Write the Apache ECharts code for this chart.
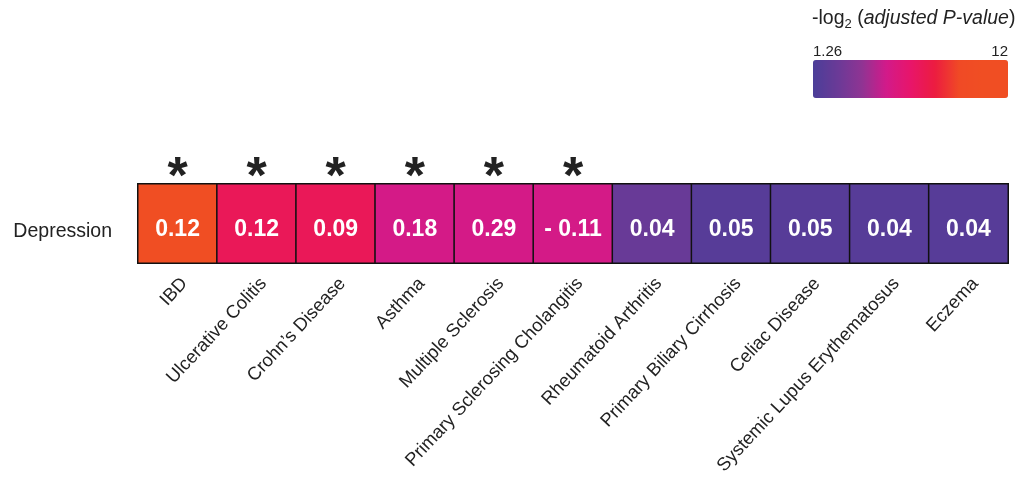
<!DOCTYPE html>
<html>
<head>
<meta charset="utf-8">
<script src="https://cdn.jsdelivr.net/npm/echarts@6/dist/echarts.min.js"></script>
<style>
  html, body { margin: 0; padding: 0; background: #fff; }
  #main { width: 1030px; height: 486px; }
</style>
</head>
<body>
<div id="main"></div>
<script>
    // 疾病类别
    var diseases = ['IBD', 'Ulcerative Colitis', 'Crohn\u2019s Disease', 'Asthma', 'Multiple Sclerosis',
        'Primary Sclerosing Cholangitis', 'Rheumatoid Arthritis', 'Primary Biliary Cirrhosis',
        'Celiac Disease', 'Systemic Lupus Erythematosus', 'Eczema'];
    var traits = ['Depression'];
    // -log2(adjusted P-value), estimated from colour
    var negLogP = [12, 7.2, 7.2, 5.4, 5.4, 5.4, 2.5, 1.8, 1.8, 1.8, 1.8];
    // correlation labels
    var corrLabels = ['0.12', '0.12', '0.09', '0.18', '0.29', '- 0.11', '0.04', '0.05', '0.05', '0.04', '0.04'];
    var stars = ['*', '*', '*', '*', '*', '*', '', '', '', '', ''];
    var legendMin = 1.26;
    var legendMax = 12;

    var heatData = negLogP.map(function (v, i) {
        return [i, 0, v];
    });

    var chart = echarts.init(document.getElementById('main'));
    var option = {
        animation: false,
        textStyle: { fontFamily: 'Liberation Sans, Arial, sans-serif' },
        grid: {
            left: 138,
            right: 22,
            top: 184,
            height: 79,
            show: true,
            borderColor: '#111',
            borderWidth: 2,
            backgroundColor: 'transparent'
        },
        xAxis: [
            {
                type: 'category',
                data: diseases,
                position: 'bottom',
                axisLine: { show: false },
                axisTick: { show: false },
                splitLine: { show: false },
                axisLabel: {
                    rotate: 47,
                    interval: 0,
                    margin: 25,
                    padding: [0, -10, 0, 0],
                    fontSize: 18.4,
                    color: '#222'
                }
            },
            {
                type: 'category',
                data: stars,
                position: 'top',
                axisLine: { show: false },
                axisTick: { show: false },
                axisLabel: {
                    interval: 0,
                    margin: -21,
                    fontSize: 52,
                    fontWeight: 'bold',
                    color: '#222'
                }
            }
        ],
        yAxis: {
            type: 'category',
            data: traits,
            axisLine: { show: false },
            axisTick: { show: false },
            splitLine: { show: false },
            axisLabel: {
                margin: 26,
                formatter: function (v) {
                    return '{t|' + v + '}';
                },
                rich: {
                    t: { fontSize: 19.5, color: '#222', padding: [16, 0, 0, 0] }
                }
            }
        },
        visualMap: {
            type: 'continuous',
            min: legendMin,
            max: legendMax,
            dimension: 2,
            orient: 'horizontal',
            left: 813,
            top: 60,
            padding: 0,
            itemWidth: 38,
            itemHeight: 195,
            calculable: false,
            hoverLink: false,
            text: null,
            inRange: {
                color: ['#4b3e98', '#6a3a97', '#8f3493', '#d21a8a', '#e8156a',
                    '#ec1c40', '#f04a25', '#f04e23', '#f04e23']
            }
        },
        graphic: [
            {
                type: 'text',
                left: 812,
                top: 9,
                style: {
                    text: '{a|-log}{s|2}{a| (}{i|adjusted P-value}{a|)}',
                    rich: {
                        a: { fontSize: 19.5, fill: '#222', fontFamily: 'Liberation Sans' },
                        s: { fontSize: 13, fill: '#222', verticalAlign: 'bottom', padding: [10, 0, 0, 0], fontFamily: 'Liberation Sans' },
                        i: { fontSize: 19.5, fill: '#222', fontStyle: 'italic', fontFamily: 'Liberation Sans' }
                    }
                }
            },
            {
                type: 'text',
                left: 813,
                top: 44,
                style: { text: String(legendMin), fontSize: 15, fill: '#222', fontFamily: 'Liberation Sans' }
            },
            {
                type: 'text',
                right: 22,
                top: 44,
                style: { text: String(legendMax), fontSize: 15, fill: '#222', fontFamily: 'Liberation Sans' }
            }
        ],
        series: [
            {
                type: 'heatmap',
                data: heatData,
                itemStyle: {
                    borderColor: '#111',
                    borderWidth: 1.5
                },
                label: {
                    show: true,
                    color: '#fff',
                    fontSize: 23,
                    fontWeight: 'bold',
                    offset: [0, 6],
                    formatter: function (p) {
                        return corrLabels[p.dataIndex];
                    }
                },
                emphasis: { disabled: true }
            }
        ]
    };
    chart.setOption(option);
</script>
</body>
</html>
